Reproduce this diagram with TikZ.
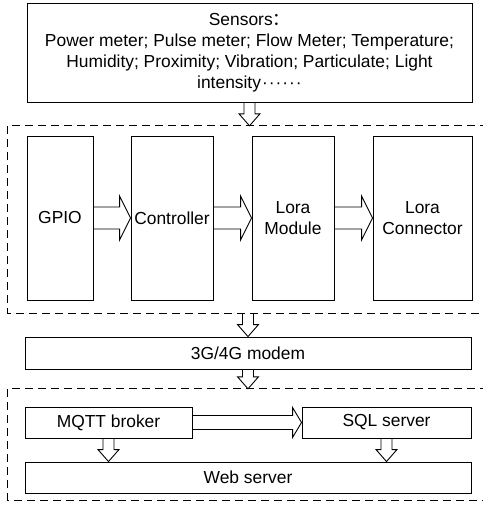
\documentclass[tikz,border=0pt]{standalone}
\usepackage{fontspec}
\setmainfont{Liberation Sans}
\newfontfamily\cjk{Noto Sans CJK SC}
\usetikzlibrary{calc}
\tikzset{
  box/.style={draw, line width=0.9pt, inner sep=0pt, align=center, fill=white,
    font=\fontsize{17.4pt}{21pt}\selectfont},
  grouparea/.style={inner sep=0pt},
  groupline/.style={dash pattern=on 8pt off 5pt, line width=0.9pt},
  blk/.style={draw, line width=0.9pt, line join=miter}
}
\newcommand\blkdown[2]{%
  \draw[blk] let \p1=(#1.south), \p2=(#2.north) in
    (\x1-5.5pt,\y1) -- (\x1-5.5pt,\y2+12pt) -- (\x1-10.5pt,\y2+12pt) -- (\x1,\y2)
    -- (\x1+10.5pt,\y2+12pt) -- (\x1+5.5pt,\y2+12pt) -- (\x1+5.5pt,\y1);}
\newcommand\blkright[5]{%
  \draw[blk] let \p1=(#1.east), \p2=(#2.west) in
    (\x1,\y1+#3) -- (\x2-#5,\y1+#3) -- (\x2-#5,\y1+#4) -- (\x2,\y1)
    -- (\x2-#5,\y1-#4) -- (\x2-#5,\y1-#3) -- (\x1,\y1-#3);}
\newcommand\middots{\kern1pt·\kern1pt·\kern1pt·\kern1pt·\kern1pt·\kern1pt·}
\begin{document}
\begin{tikzpicture}[x=1pt,y=-1pt]
\useasboundingbox (0,0) rectangle (482,506);
% groups (right side runs past the picture's edge)
\node[grouparea, minimum width=480pt, minimum height=187pt] (g1) at (248,219.5) {};
\node[grouparea, minimum width=480pt, minimum height=111pt] (g2) at (248,444.5) {};
\draw[groupline] (g1.north east) -- (g1.north west) -- (g1.south west) -- (g1.south east);
\draw[groupline] (g2.north east) -- (g2.north west) -- (g2.south west) -- (g2.south east);
% sensors
\node[box, minimum width=445pt, minimum height=99pt] (sens) at (249.5,52.5)
  {Sensors\cjk{：}\\Power meter; Pulse meter; Flow Meter; Temperature;\\Humidity; Proximity; Vibration; Particulate; Light\\intensity\middots};
% row
\node[box, minimum width=66pt, minimum height=164pt] (gpio) at (60,218) {GPIO};
\node[box, minimum width=82pt, minimum height=164pt] (ctrl) at (172,218) {Controller};
\node[box, minimum width=82pt, minimum height=164pt] (lmod) at (293,218) {Lora\\Module};
\node[box, minimum width=99pt, minimum height=164pt] (lcon) at (422.5,218) {Lora\\Connector};
% modem
\node[box, minimum width=446pt, minimum height=32pt] (modem) at (248,353) {3G/4G modem};
% servers
\node[box, minimum width=167pt, minimum height=31pt] (mqtt) at (108.5,422.5) {MQTT broker};
\node[box, minimum width=169pt, minimum height=31pt] (sql) at (386.5,422.5) {SQL server};
\node[box, minimum width=446pt, minimum height=31pt] (web) at (248,477.5) {Web server};
% arrows
\blkdown{sens}{g1}
\blkright{gpio}{ctrl}{11pt}{22pt}{11pt}
\blkright{ctrl}{lmod}{11pt}{22pt}{11pt}
\blkright{lmod}{lcon}{11pt}{22pt}{11pt}
\blkdown{modem}{g2}
\blkright{mqtt}{sql}{7pt}{15pt}{9pt}
\blkdown{mqtt}{web}
\blkdown{sql}{web}
\draw[blk] let \p1=(modem.north), \p2=(g1.south) in
    (\x1-5.5pt,\y2) -- (\x1-5.5pt,\y1+12pt) -- (\x1-10.5pt,\y1+12pt) -- (\x1,\y1)
    -- (\x1+10.5pt,\y1+12pt) -- (\x1+5.5pt,\y1+12pt) -- (\x1+5.5pt,\y2);
\end{tikzpicture}
\end{document}
